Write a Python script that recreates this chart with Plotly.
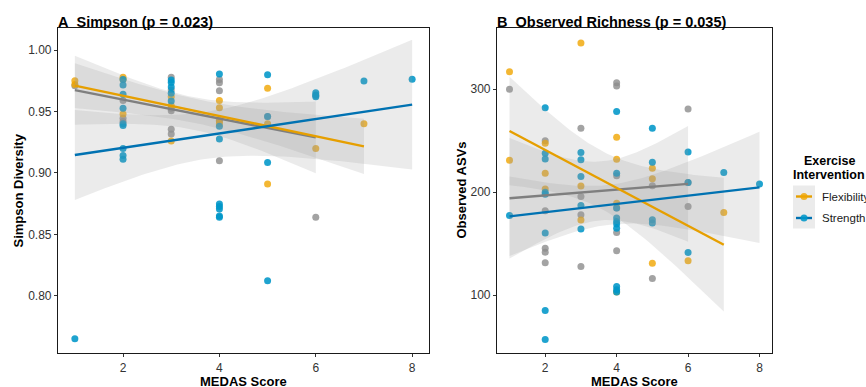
import math
import numpy as np
import plotly.graph_objects as go

# ---- Simpson diversity vs MEDAS score (panel A) ----
flex_x_a = [1, 1, 2, 2, 2, 3, 3, 3, 4, 4, 4, 4, 5, 5, 5, 6, 7]
flex_y_a = [0.975, 0.972, 0.978, 0.976, 0.948, 0.962, 0.955, 0.926, 0.959, 0.953,
            0.942, 0.940, 0.969, 0.940, 0.891, 0.920, 0.940]
ctrl_x_a = [1, 2, 2, 2, 3, 3, 3, 3, 3, 3, 4, 4, 4, 4, 4, 5, 6, 6]
ctrl_y_a = [0.971, 0.959, 0.9445, 0.942, 0.978, 0.9675, 0.9526, 0.9507, 0.9356, 0.9318,
            0.976, 0.9735, 0.967, 0.943, 0.910, 0.946, 0.864, 0.963]
str_x_a = [1, 2, 2, 2, 2, 2, 2, 2, 2, 2, 3, 3, 3, 3, 3, 4, 4, 4, 4, 4, 4, 4, 4,
           5, 5, 5, 5, 6, 6, 6, 7, 8]
str_y_a = [0.765, 0.976, 0.9716, 0.964, 0.9526, 0.940, 0.9386, 0.920, 0.9142, 0.9112,
           0.9756, 0.9737, 0.970, 0.9648, 0.9586, 0.9805, 0.938, 0.9277, 0.8747, 0.8728,
           0.8706, 0.865, 0.864, 0.980, 0.946, 0.9085, 0.8122, 0.9653, 0.9634, 0.962,
           0.9748, 0.9762]

# ---- Observed ASVs vs MEDAS score (panel B) ----
flex_x_b = [1, 1, 2, 2, 2, 3, 3, 3, 4, 4, 4, 4, 5, 5, 5, 6, 7]
flex_y_b = [317, 231, 247.6, 218.4, 203, 345, 206, 173, 253.4, 232, 189.3, 103,
            223.3, 213, 131, 133.3, 180.2]
ctrl_x_b = [1, 2, 2, 2, 2, 2, 3, 3, 3, 3, 4, 4, 4, 4, 4, 4, 5, 5, 6, 6, 6]
ctrl_y_b = [300, 250, 182, 145.6, 141.7, 131.4, 262, 195.7, 178, 127.8, 306.4, 303.2,
            216, 184.5, 160.8, 143, 206.1, 116.1, 280.9, 209.3, 186]
str_x_b = [1, 2, 2, 2, 2, 2, 2, 2, 2, 3, 3, 3, 3, 3, 4, 4, 4, 4, 4, 4, 4, 4, 4, 4,
           5, 5, 5, 5, 6, 6, 6, 7, 8]
str_y_b = [177.3, 282, 237.9, 232.3, 200, 198, 160.2, 85, 56.9, 238.5, 231.4, 215.2,
           187, 164.1, 278.3, 218.4, 184.5, 174.8, 171.5, 169, 165, 108.3, 105.1, 102.9,
           262.1, 229.1, 173.1, 169.9, 239.1, 209.3, 141.4, 219, 208]

x_ticks = [2, 4, 6, 8]
y_ticks_a = [0.80, 0.85, 0.90, 0.95, 1.00]
y_ticks_b = [100, 200, 300]

W, H = 866, 387
FONT = "Liberation Sans, Arial, sans-serif"

groups = {
    "Control":     dict(point="rgba(140,140,140,0.8)", line="#7f7f7f"),
    "Flexibility": dict(point="rgba(240,165,0,0.8)", line="#E69F00"),
    "Strength":    dict(point="rgba(0,150,200,0.88)", line="#0072B2"),
}

panels = [
    dict(xa="x", ya="y", data={"Control": (ctrl_x_a, ctrl_y_a),
                               "Flexibility": (flex_x_a, flex_y_a),
                               "Strength": (str_x_a, str_y_a)}),
    dict(xa="x2", ya="y2", data={"Control": (ctrl_x_b, ctrl_y_b),
                                 "Flexibility": (flex_x_b, flex_y_b),
                                 "Strength": (str_x_b, str_y_b)}),
]


def t_quantile(p, df):
    """Quantile of Student's t via numeric integration of the density."""
    xs = np.linspace(0, 12, 24001)
    c = math.gamma((df + 1) / 2) / (math.sqrt(df * math.pi) * math.gamma(df / 2))
    pdf = c * (1 + xs ** 2 / df) ** (-(df + 1) / 2)
    cdf = 0.5 + np.concatenate([[0], np.cumsum((pdf[1:] + pdf[:-1]) / 2 * np.diff(xs))])
    return float(np.interp(p, cdf, xs))


def lm_band(x, y, n_out=80, level=0.95):
    x = np.asarray(x, float)
    y = np.asarray(y, float)
    n = len(x)
    xbar = x.mean()
    sxx = ((x - xbar) ** 2).sum()
    b1 = ((x - xbar) * (y - y.mean())).sum() / sxx
    b0 = y.mean() - b1 * xbar
    resid = y - (b0 + b1 * x)
    s = math.sqrt((resid ** 2).sum() / (n - 2))
    xg = np.linspace(x.min(), x.max(), n_out)
    fit = b0 + b1 * xg
    se = s * np.sqrt(1 / n + (xg - xbar) ** 2 / sxx)
    tq = t_quantile(0.5 + level / 2, n - 2)
    return xg, fit, fit - tq * se, fit + tq * se


fig = go.Figure()

for p in panels:
    # points
    for g in ["Control", "Flexibility", "Strength"]:
        gx, gy = p["data"][g]
        fig.add_trace(go.Scatter(
            x=gx, y=gy, mode="markers", xaxis=p["xa"], yaxis=p["ya"],
            marker=dict(size=7, color=groups[g]["point"], line=dict(width=0)),
            showlegend=False, hoverinfo="skip"))
    # confidence ribbons + fitted lines
    fits = {}
    for g in ["Control", "Flexibility", "Strength"]:
        gx, gy = p["data"][g]
        xg, fit, lo, hi = lm_band(gx, gy)
        fits[g] = (xg, fit)
        fig.add_trace(go.Scatter(
            x=np.concatenate([xg, xg[::-1]]), y=np.concatenate([hi, lo[::-1]]),
            mode="lines", fill="toself", fillcolor="rgba(153,153,153,0.2)",
            line=dict(width=0), xaxis=p["xa"], yaxis=p["ya"],
            showlegend=False, hoverinfo="skip"))
    for g in ["Control", "Flexibility", "Strength"]:
        xg, fit = fits[g]
        fig.add_trace(go.Scatter(
            x=xg, y=fit, mode="lines", xaxis=p["xa"], yaxis=p["ya"],
            line=dict(color=groups[g]["line"], width=2.4),
            showlegend=False, hoverinfo="skip"))


def px_x(v):
    return v / W


def px_y(v):
    return 1 - v / H


axis_common = dict(
    showline=True, linecolor="#1a1a1a", linewidth=1.2, mirror=True,
    ticks="outside", ticklen=3, tickwidth=1, tickcolor="#333333",
    showgrid=False, zeroline=False,
    tickfont=dict(family=FONT, size=12, color="#333333"),
)

fig.update_layout(
    width=W, height=H, margin=dict(l=0, r=0, t=0, b=0),
    paper_bgcolor="white", plot_bgcolor="white",
    xaxis=dict(domain=[px_x(58), px_x(429)], range=[0.65, 8.35], tickvals=x_ticks,
               anchor="y", **axis_common),
    yaxis=dict(domain=[px_y(353), px_y(28)], range=[0.7535, 1.018], tickvals=y_ticks_a,
               ticktext=[f"{v:.2f}" for v in y_ticks_a], anchor="x", **axis_common),
    xaxis2=dict(domain=[px_x(497), px_x(772)], range=[0.65, 8.35], tickvals=x_ticks,
                anchor="y2", **axis_common),
    yaxis2=dict(domain=[px_y(353), px_y(28)], range=[43.7, 359.5], tickvals=y_ticks_b,
                anchor="x2", **axis_common),
    showlegend=False,
)

ann = []
# panel titles
ann.append(dict(text="<b>A\u00a0\u00a0Simpson (p = 0.023)</b>", x=px_x(57), y=px_y(21.5),
                xanchor="left", yanchor="middle", font=dict(size=14.5)))
ann.append(dict(text="<b>B\u00a0\u00a0Observed Richness (p = 0.035)</b>", x=px_x(496),
                y=px_y(21.5), xanchor="left", yanchor="middle", font=dict(size=14.5)))
# axis titles
ann.append(dict(text="<b>MEDAS Score</b>", x=px_x(243.5), y=px_y(381), xanchor="center",
                yanchor="middle", font=dict(size=13)))
ann.append(dict(text="<b>MEDAS Score</b>", x=px_x(634.5), y=px_y(381), xanchor="center",
                yanchor="middle", font=dict(size=13)))
ann.append(dict(text="<b>Simpson Diversity</b>", x=px_x(18), y=px_y(190.5), textangle=-90,
                xanchor="center", yanchor="middle", font=dict(size=13)))
ann.append(dict(text="<b>Observed ASVs</b>", x=px_x(461), y=px_y(190.5), textangle=-90,
                xanchor="center", yanchor="middle", font=dict(size=13)))
# legend
ann.append(dict(text="<b>Exercise</b>", x=px_x(829), y=px_y(161.5), xanchor="center",
                yanchor="middle", font=dict(size=12.5)))
ann.append(dict(text="<b>Intervention</b>", x=px_x(829), y=px_y(174.5), xanchor="center",
                yanchor="middle", font=dict(size=12.5)))
legend_items = [("Flexibility", 196.5), ("Strength", 218)]
for name, yy in legend_items:
    ann.append(dict(text=name, x=px_x(821), y=px_y(yy), xanchor="left", yanchor="middle",
                    font=dict(size=11.5, color="#1a1a1a")))

for a in ann:
    a.update(xref="paper", yref="paper", showarrow=False, borderpad=0)
    a["font"] = dict(family=FONT, color=a["font"].get("color", "#000000"),
                     size=a["font"]["size"])
fig.update_layout(annotations=ann)

shapes = [dict(type="rect", xref="paper", yref="paper", x0=px_x(793), x1=px_x(815),
               y0=px_y(228.5), y1=px_y(185.5), fillcolor="#ebebeb", line=dict(width=0),
               layer="below")]
for name, yy in legend_items:
    col = groups[name]["line"]
    shapes.append(dict(type="line", xref="paper", yref="paper", x0=px_x(796), x1=px_x(812),
                       y0=px_y(yy), y1=px_y(yy), line=dict(color=col, width=2.4)))
    shapes.append(dict(type="circle", xref="paper", yref="paper",
                       x0=px_x(804 - 3.5), x1=px_x(804 + 3.5),
                       y0=px_y(yy + 3.5), y1=px_y(yy - 3.5),
                       fillcolor=groups[name]["point"], line=dict(width=0)))
fig.update_layout(shapes=shapes)

fig.write_html("out.html")
